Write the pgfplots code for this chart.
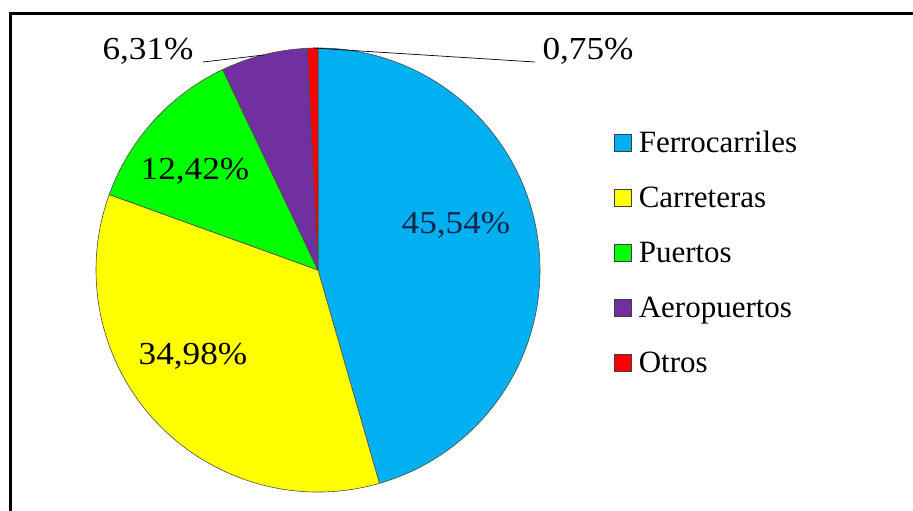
\documentclass[border=0pt]{standalone}
\usepackage{pgfplots}
\usepackage{pgfplotstable}
\pgfplotsset{compat=1.18}
\usepackage{fontspec}
\setmainfont{Liberation Serif}
\newfontfamily\labfam[FakeStretch=1.1]{Liberation Serif}

\definecolor{cFerro}{HTML}{00B0F0}
\definecolor{cCarre}{HTML}{FFFF00}
\definecolor{cPuert}{HTML}{00FF00}
\definecolor{cAero}{HTML}{7030A0}
\definecolor{cOtros}{HTML}{FF0000}
\definecolor{cNavy}{HTML}{16264A}

% share of investment by transport mode (percent)
\pgfplotstableread{
label          value  colour
Ferrocarriles  45.54  cFerro
Carreteras     34.98  cCarre
Puertos        12.42  cPuert
Aeropuertos    6.31   cAero
Otros          0.75   cOtros
}\piedata

% start/end angle of every slice, clockwise from 12 o'clock
\pgfmathsetmacro{\curangle}{90}
\pgfplotsforeachungrouped \i in {0,...,4}{%
  \pgfplotstablegetelem{\i}{value}\of\piedata
  \pgfmathsetmacro{\nextangle}{\curangle-3.6*\pgfplotsretval}%
  \expandafter\xdef\csname pa\i\endcsname{\curangle}%
  \expandafter\xdef\csname pb\i\endcsname{\nextangle}%
  \pgfplotstablegetelem{\i}{colour}\of\piedata
  \expandafter\xdef\csname pc\i\endcsname{\pgfplotsretval}%
  \global\let\curangle\nextangle
}

\newcommand\pieR{222}
\newcommand\labfont{\labfam\fontsize{32}{32}\selectfont}
\newcommand\legfont{\fontsize{31}{31}\selectfont}

\begin{document}
\begin{tikzpicture}
\useasboundingbox (0,0) rectangle (913pt,511pt);
\begin{axis}[
  x=1pt, y=1pt,
  xmin=0, xmax=913, ymin=0, ymax=511,
  hide axis, clip=false,
  legend cell align=left,
  legend style={
    at={(axis cs:611,383)}, anchor=north west,
    draw=none, fill=none,
    font=\legfont,
    row sep=26pt,
    nodes={inner sep=0pt, text height=22pt, text depth=7pt},
    /tikz/every odd column/.style={column sep=7pt},
  },
  legend image code/.code={%
    \draw[#1, draw=black!75, line width=0.6pt] (0pt,-7pt) rectangle (17pt,10pt);},
]
% outer frame
\draw[line width=3pt] (axis cs:960,497) -- (axis cs:10,497) -- (axis cs:10,-40);
% title, mostly above the page
\node[anchor=base, font=\fontsize{31}{31}\selectfont] at (axis cs:368,517) {(\hspace{70pt})};

% slices
\pgfplotsinvokeforeach{0,...,4}{%
  \filldraw[fill=\csname pc#1\endcsname, draw=black!70, line width=0.6pt]
    (axis cs:318,241) -- ++(\csname pa#1\endcsname:\pieR pt)
    arc[start angle=\csname pa#1\endcsname, end angle=\csname pb#1\endcsname, radius=\pieR pt]
    -- cycle;
}

% value labels
\node[font=\labfont, text=cNavy] at (axis cs:456,286) {45,54\%};
\node[font=\labfont] at (axis cs:193,155) {34,98\%};
\node[font=\labfont] at (axis cs:195,340) {12,42\%};
\node[font=\labfont, anchor=base east] at (axis cs:197,451) {6,31\%};
\node[font=\labfont, anchor=base west] at (axis cs:539,451) {0,75\%};
% leader lines
\draw[line width=0.7pt] (axis cs:203,449) -- (axis cs:264,456);
\draw[line width=0.7pt] (axis cs:313,463) -- (axis cs:535,449);

\addlegendimage{fill=cFerro}\addlegendentry{Ferrocarriles}
\addlegendimage{fill=cCarre}\addlegendentry{Carreteras}
\addlegendimage{fill=cPuert}\addlegendentry{Puertos}
\addlegendimage{fill=cAero}\addlegendentry{Aeropuertos}
\addlegendimage{fill=cOtros}\addlegendentry{Otros}
\end{axis}
\end{tikzpicture}
\end{document}
